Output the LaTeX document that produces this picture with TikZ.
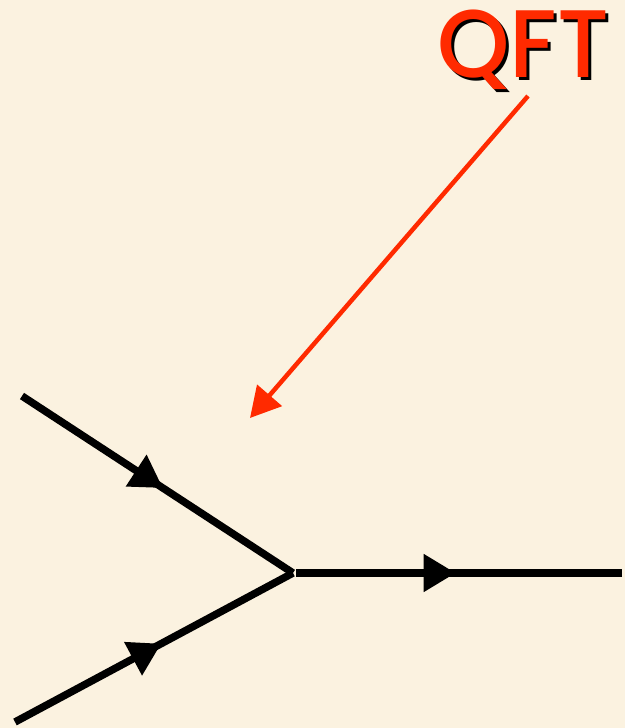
\documentclass[tikz,border=0pt]{standalone}
\usepackage{fontspec}
\newfontfamily\qfont{Poppins Medium}
\usetikzlibrary{arrows.meta,decorations.markings}
\definecolor{bg}{HTML}{FBF2E0}
\definecolor{qred}{HTML}{FF2A00}
\newcommand{\shadowtext}[1]{\rlap{\kern3pt\raisebox{-3pt}{\color{black}#1}}{\color{qred}#1}}
\tikzset{
  fline/.style={line width=7.5pt, draw=black},
  midarrow/.style={postaction={decorate}, decoration={markings, mark=at position #1 with {\arrow{Triangle[length=32pt,width=36pt]}}}},
  redarrow/.style={line width=4.5pt, draw=qred, -{Triangle[length=30pt,width=32pt]}},
  qlabel/.style={font=\fontsize{96}{96}\qfont, inner sep=0pt, anchor=base west, xscale=0.96}
}
\begin{document}
\begin{tikzpicture}[x=1pt,y=-1pt]
\fill[bg] (0,0) rectangle (625,728);
\useasboundingbox (0,0) rectangle (625,728);
\coordinate (a) at (22,396);
\coordinate (b) at (15,722);
\coordinate (v) at (293,573);
\coordinate (v2) at (296,573);
\coordinate (c) at (622,573);
\coordinate (rs) at (528,96);
\coordinate (rt) at (250,418);
\node[qlabel] (q) at (437,77) {\shadowtext{QFT}};
\draw[fline, midarrow=0.52] (a) -- (v);
\draw[fline, midarrow=0.526] (b) -- (v);
\draw[fline, midarrow=0.49] (v2) -- (c);
\draw[redarrow] (rs) -- (rt);
\end{tikzpicture}
\end{document}
